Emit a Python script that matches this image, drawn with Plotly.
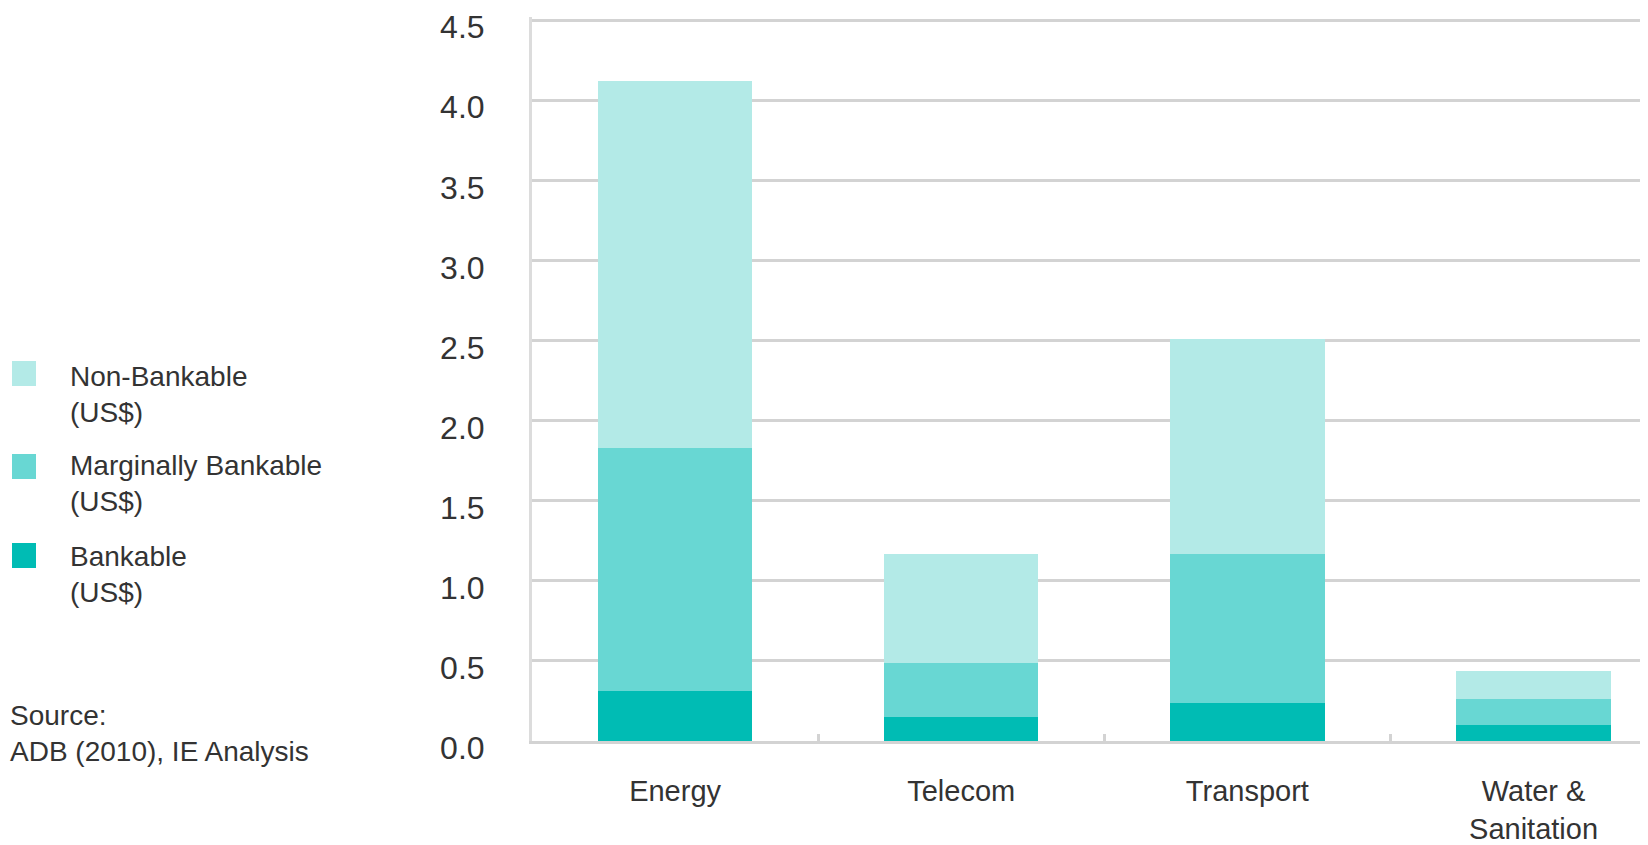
"""
Stacked bars: bankability of infrastructure investment by sector (US$)
"""

import plotly.graph_objects as go

# data
sectors = ["Energy", "Telecom", "Transport", "Water &<br>Sanitation"]
bankable = [0.31, 0.15, 0.24, 0.10]
marginally_bankable = [1.52, 0.34, 0.93, 0.16]
non_bankable = [2.29, 0.68, 1.34, 0.18]
y_ticks = [0.0, 0.5, 1.0, 1.5, 2.0, 2.5, 3.0, 3.5, 4.0, 4.5]

COLORS = {
    "Bankable": "#00bcb4",
    "Marginally Bankable": "#68d7d3",
    "Non-Bankable": "#b3eae7",
}
TEXT = "#333333"
FONT = "Arial, Liberation Sans, sans-serif"

# the page body adds an 8px margin, so the figure is a bit smaller than the window
OFF = 8
W, H = 1648 - OFF, 845 - OFF
Y_TOP = 4.52
AXIS_Y = 741 - OFF            # x axis line, figure pixels
PH = round(721 * Y_TOP / 4.5)  # 0 -> 4.5 spans 721px
L, R = 532 - OFF, 0
T = AXIS_Y - PH
B = H - AXIS_Y
PW = W - L - R


def px(x):
    # screen pixel -> paper x
    return (x - OFF - L) / PW


def py(y):
    # screen pixel -> paper y
    return (AXIS_Y - (y - OFF)) / PH


fig = go.Figure()

series = [
    ("Bankable", bankable),
    ("Marginally Bankable", marginally_bankable),
    ("Non-Bankable", non_bankable),
]
for name, vals in series:
    fig.add_trace(go.Bar(
        x=sectors,
        y=vals,
        name=name + " (US$)",
        marker=dict(color=COLORS[name], line=dict(width=0)),
        width=0.54,
        hovertemplate='<b>%{x}</b><br>' + name + ': %{y:.2f}<extra></extra>'
    ))

# legend drawn by hand so the swatches can be large
legend_items = [
    ("Non-Bankable", 361, 394),
    ("Marginally Bankable", 454, 484),
    ("Bankable", 543, 574),
]
shapes = []
annotations = []
for name, sq_top, text_mid in legend_items:
    shapes.append(dict(
        type="rect", xref="paper", yref="paper",
        x0=px(12), x1=px(36), y0=py(sq_top + 25), y1=py(sq_top),
        fillcolor=COLORS[name], line=dict(width=0), layer="above"
    ))
    annotations.append(dict(
        xref="paper", yref="paper", x=px(68), y=py(text_mid),
        xanchor="left", yanchor="middle", align="left", showarrow=False,
        text=name + "<br>(US$)", font=dict(size=28, color=TEXT, family=FONT)
    ))

annotations.append(dict(
    xref="paper", yref="paper", x=px(8), y=py(733),
    xanchor="left", yanchor="middle", align="left", showarrow=False,
    text="Source:<br>ADB (2010), IE Analysis",
    font=dict(size=28, color=TEXT, family=FONT)
))

fig.update_layout(
    barmode="stack",
    width=W,
    height=H,
    margin=dict(l=L, r=R, t=T, b=B, autoexpand=False),
    paper_bgcolor="white",
    plot_bgcolor="white",
    showlegend=False,
    font=dict(family=FONT, color=TEXT, size=30),
    shapes=shapes,
    annotations=annotations,
)

fig.update_xaxes(
    range=[-0.5, 3.4],
    showline=True, linecolor="#d3d3d3", linewidth=3,
    showgrid=False,
    tickson="boundaries", ticks="inside", ticklen=7, tickwidth=3, tickcolor="#d3d3d3",
    ticklabelstandoff=22,
    tickfont=dict(size=29, color=TEXT),
    automargin=False,
)

fig.update_yaxes(
    range=[0, Y_TOP],
    tickvals=y_ticks,
    ticktext=[f"{v:.1f}" for v in y_ticks],
    showline=True, linecolor="#dcdcdc", linewidth=3,
    showgrid=True, gridcolor="#d3d3d3", gridwidth=3,
    zeroline=False,
    ticks="",
    ticklabelstandoff=38,
    ticklabelshift=7,
    ticklabeloverflow="allow",
    tickfont=dict(size=32, color=TEXT),
    automargin=False,
)

fig.write_html("out.html")
